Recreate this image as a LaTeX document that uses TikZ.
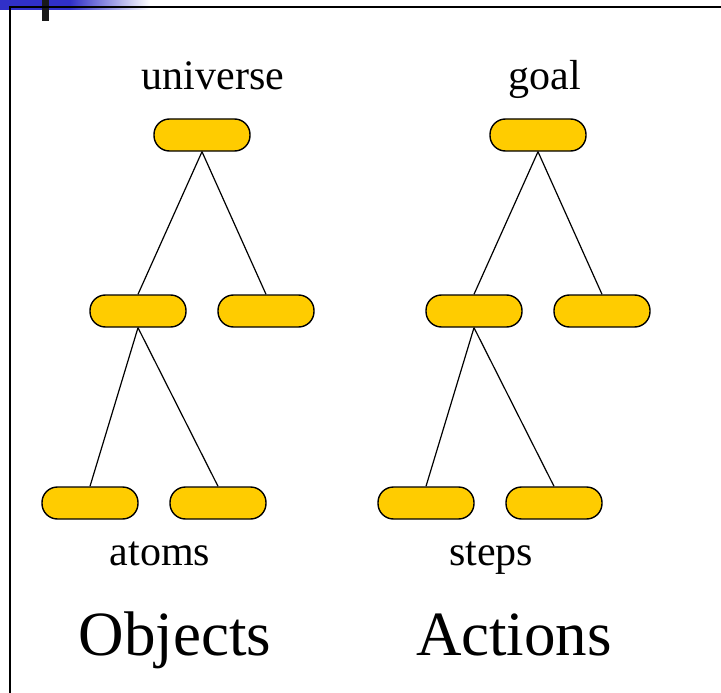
\documentclass[tikz,border=0pt]{standalone}
\usepackage{fontspec}
\setmainfont{Liberation Serif}
\begin{document}
\begin{tikzpicture}[x=1pt,y=-1pt,
  pill/.style={draw=black,line width=1.4pt,fill=pillyellow,rounded corners=15.5pt,minimum width=96pt,minimum height=32pt,inner sep=0pt},
  edge/.style={line width=1.2pt},
  lbl/.style={font=\fontsize{42}{46}\selectfont,inner sep=0pt,anchor=base},
  ttl/.style={font=\fontsize{63}{67}\selectfont,inner sep=0pt,anchor=base}]
\definecolor{pillyellow}{HTML}{FFCC00}
\definecolor{barblue}{HTML}{3030C8}
\useasboundingbox (0,0) rectangle (721,693);
\fill[white] (0,0) rectangle (721,693);
% header bar
\fill[barblue] (0,0) rectangle (70,10);
\shade[left color=barblue,right color=white] (70,0) rectangle (150,10);
\fill[black!90] (42,0) rectangle (49,21);
\draw[line width=2pt] (10,693) -- (10,7) -- (721,7);
% left tree
\node[pill] (u) at (202,135) {};
\node[pill] (m1) at (138,311) {};
\node[pill] (m2) at (266,311) {};
\node[pill] (b1) at (90,503) {};
\node[pill] (b2) at (218,503) {};
\draw[edge] (u.south) -- (m1.north);
\draw[edge] (u.south) -- (m2.north);
\draw[edge] (m1.south) -- (b1.north);
\draw[edge] (m1.south) -- (b2.north);
% right tree
\node[pill] (g) at (538,135) {};
\node[pill] (n1) at (474,311) {};
\node[pill] (n2) at (602,311) {};
\node[pill] (c1) at (426,503) {};
\node[pill] (c2) at (554,503) {};
\draw[edge] (g.south) -- (n1.north);
\draw[edge] (g.south) -- (n2.north);
\draw[edge] (n1.south) -- (c1.north);
\draw[edge] (n1.south) -- (c2.north);
% labels
\node[lbl] (tu) at (213,89) {universe};
\node[lbl] (tg) at (545,89) {goal};
\node[lbl] (ta) at (160,565) {atoms};
\node[lbl] (ts) at (491,565) {steps};
\node[ttl] (to) at (175,655) {Objects};
\node[ttl] (tac) at (514,655) {Actions};
\end{tikzpicture}
\end{document}
